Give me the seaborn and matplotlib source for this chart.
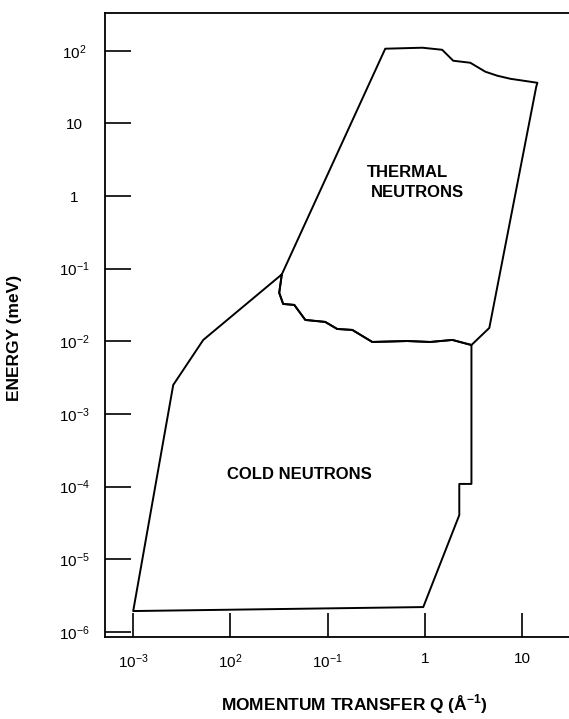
import matplotlib
matplotlib.use("Agg")
import matplotlib.pyplot as plt
import seaborn as sns

import numpy as np
import pandas as pd

# outline of the thermal region (left edge, top, right edge), Q in 1/A, E in meV
thermal_q = [0.0337, 0.390, 0.938, 1.50, 1.95, 2.92, 4.17, 5.53, 7.53, 14.3, 13.9, 4.58, 3.0]
thermal_e = [0.0834, 106.6, 110, 103, 72.8, 68.3, 51.4, 45.3, 41.1, 36.2, 31.9, 0.0153, 0.0089]

# boundary shared by both regions, right to left
shared_q = [3.0, 1.91, 1.13, 0.656, 0.287, 0.179, 0.125, 0.0942, 0.0588, 0.0453, 0.0348, 0.0317, 0.0337]
shared_e = [0.0089, 0.01045, 0.0098, 0.0101, 0.0098, 0.01435, 0.0148, 0.0185, 0.0197, 0.0317, 0.0327, 0.0465, 0.0834]

# outline of the cold region (left edge, bottom, right edge)
cold_q = [0.0337, 0.00525, 0.00258, 0.001, 0.959, 2.25, 2.25, 3.0]
cold_e = [0.0834, 0.01045, 0.00251, 1.94e-6, 2.2e-6, 4.06e-5, 1.09e-4, 1.09e-4]

x_ticks = [1e-3, 1e-2, 1e-1, 1, 10]
x_tick_labels = [r"$\mathregular{10^{-3}}$", r"$\mathregular{10^{2}}$",
                 r"$\mathregular{10^{-1}}$", "1", "10"]
y_ticks = [1e-6, 1e-5, 1e-4, 1e-3, 1e-2, 1e-1, 1, 10, 100]
y_tick_labels = [r"$\mathregular{10^{-6}}$", r"$\mathregular{10^{-5}}$",
                 r"$\mathregular{10^{-4}}$", r"$\mathregular{10^{-3}}$",
                 r"$\mathregular{10^{-2}}$", r"$\mathregular{10^{-1}}$",
                 "1", "10", r"$\mathregular{10^{2}}$"]

sns.set_style("white")
plt.rcParams["font.family"] = ["Liberation Sans", "DejaVu Sans"]
plt.rcParams["mathtext.fontset"] = "custom"
plt.rcParams["mathtext.rm"] = "Liberation Sans"
plt.rcParams["mathtext.bf"] = "Liberation Sans:bold"
for key in ("text.color", "axes.labelcolor", "xtick.color", "ytick.color"):
    plt.rcParams[key] = "black"

thermal = pd.DataFrame({"q": thermal_q + shared_q[1:], "e": thermal_e + shared_e[1:]})
cold = pd.DataFrame({"q": cold_q + shared_q, "e": cold_e + shared_e})

fig = plt.figure(figsize=(5.69, 7.19), dpi=100)
ax = fig.add_axes([0.1845, 0.114, 0.8155, 0.868])

for region in (thermal, cold):
    sns.lineplot(data=region, x="q", y="e", sort=False, estimator=None,
                 color="black", lw=1.4, ax=ax)

ax.set_xscale("log")
ax.set_yscale("log")
ax.set_xlim(10 ** -3.29, 10 ** 1.48)
ax.set_ylim(10 ** -6.07, 10 ** 2.52)

ax.set_xticks(x_ticks)
ax.set_xticklabels(x_tick_labels)
ax.set_yticks(y_ticks)
ax.set_yticklabels(y_tick_labels, ha="center")
ax.minorticks_off()
ax.tick_params(axis="x", direction="in", length=17, width=1.2, pad=11,
               labelsize=11, bottom=True)
ax.tick_params(axis="y", direction="in", length=19, width=1.2, pad=22,
               labelsize=11, left=True)

for side in ("left", "top", "bottom"):
    ax.spines[side].set_color("black")
    ax.spines[side].set_linewidth(1.3)
ax.spines["right"].set_visible(False)

ax.set_xlabel(r"MOMENTUM TRANSFER Q (Å$^{\mathbf{-1}}$)", fontsize=12.5, fontweight="bold")
ax.set_ylabel("ENERGY (meV)", fontsize=12.5, fontweight="bold")
ax.xaxis.set_label_coords(0.537, -0.088)
ax.yaxis.set_label_coords(-0.179, 0.479)

ax.text(0.565, 0.744, "THERMAL", transform=ax.transAxes, fontsize=12,
        fontweight="bold", ha="left", va="center")
ax.text(0.573, 0.712, "NEUTRONS", transform=ax.transAxes, fontsize=12,
        fontweight="bold", ha="left", va="center")
ax.text(0.420, 0.261, "COLD NEUTRONS", transform=ax.transAxes, fontsize=12,
        fontweight="bold", ha="center", va="center")

fig.savefig("out.png", dpi=100)
